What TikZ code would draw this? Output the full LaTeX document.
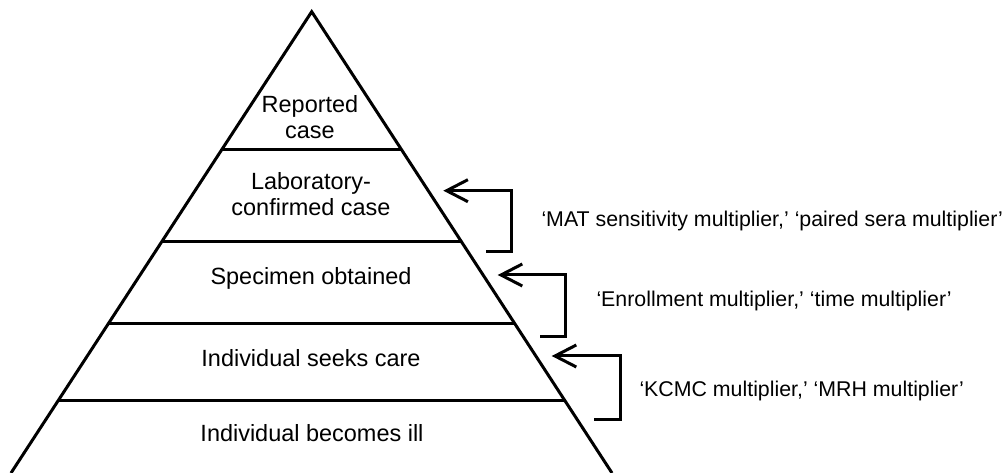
\documentclass[tikz,border=0pt]{standalone}
\usepackage{fontspec}
\setmainfont{Liberation Sans}
\usetikzlibrary{arrows.meta}

\tikzset{every picture/.style={line width=2.25pt}}
\tikzset{tier/.style={inner sep=0.75pt, align=center, font=\fontsize{17.6}{20}\selectfont},
         multtext/.style={anchor=west, inner sep=0.75pt, font=\fontsize{16}{19}\selectfont},
         multarrow/.style={-{Straight Barb[length=16pt,width=16.5pt]}, line join=miter}}

\begin{document}
\begin{tikzpicture}[x=0.75pt,y=0.75pt,yscale=-1,xscale=1]
\useasboundingbox (0,0) rectangle (1003,473);

%Pyramid sides
\draw [line join=miter]   (11,473) -- (311.7,11.7) -- (612,473) ;
%Straight Lines (tier borders)
\draw    (221.5,150) -- (401.9,150) ;
\draw    (161.8,241.7) -- (461.6,241.7) ;
\draw    (108.6,323.3) -- (514.8,323.3) ;
\draw    (58.3,400.5) -- (565.1,400.5) ;

% Text Node
\node [tier] (reported) at (310,117) {Reported\\case};
% Text Node
\node [tier] (labconf) at (311,194) {Laboratory-\\confirmed case};
% Text Node
\node [tier] (specimen) at (311,278.5) {Specimen obtained};
% Text Node
\node [tier] (seeks) at (311,358.5) {Individual seeks care};
% Text Node
\node [tier] (ill) at (312,433.5) {Individual becomes ill};

%Bracket ends
\coordinate (mattip) at (443.3,190.7);
\coordinate (matend) at (486,251.7);
\coordinate (enroltip) at (497.7,275);
\coordinate (enrolend) at (540,336.7);
\coordinate (kcmctip) at (551.7,356);
\coordinate (kcmcend) at (594,419.3);

%Brackets
\draw [multarrow]   (matend) -- ++(25.7,0) |- (mattip) ;
\draw [multarrow]   (enrolend) -- ++(25,0) |- (enroltip) ;
\draw [multarrow]   (kcmcend) -- ++(26,0) |- (kcmctip) ;

% Text Node
\node [multtext] (matmult) at (539,221) {‘MAT sensitivity multiplier,’ ‘paired sera multiplier’};
% Text Node
\node [multtext] (enrolmult) at (594,300.5) {‘Enrollment multiplier,’ ‘time multiplier’};
% Text Node
\node [multtext] (kcmcmult) at (637,390.5) {‘KCMC multiplier,’ ‘MRH multiplier’};

\end{tikzpicture}
\end{document}
